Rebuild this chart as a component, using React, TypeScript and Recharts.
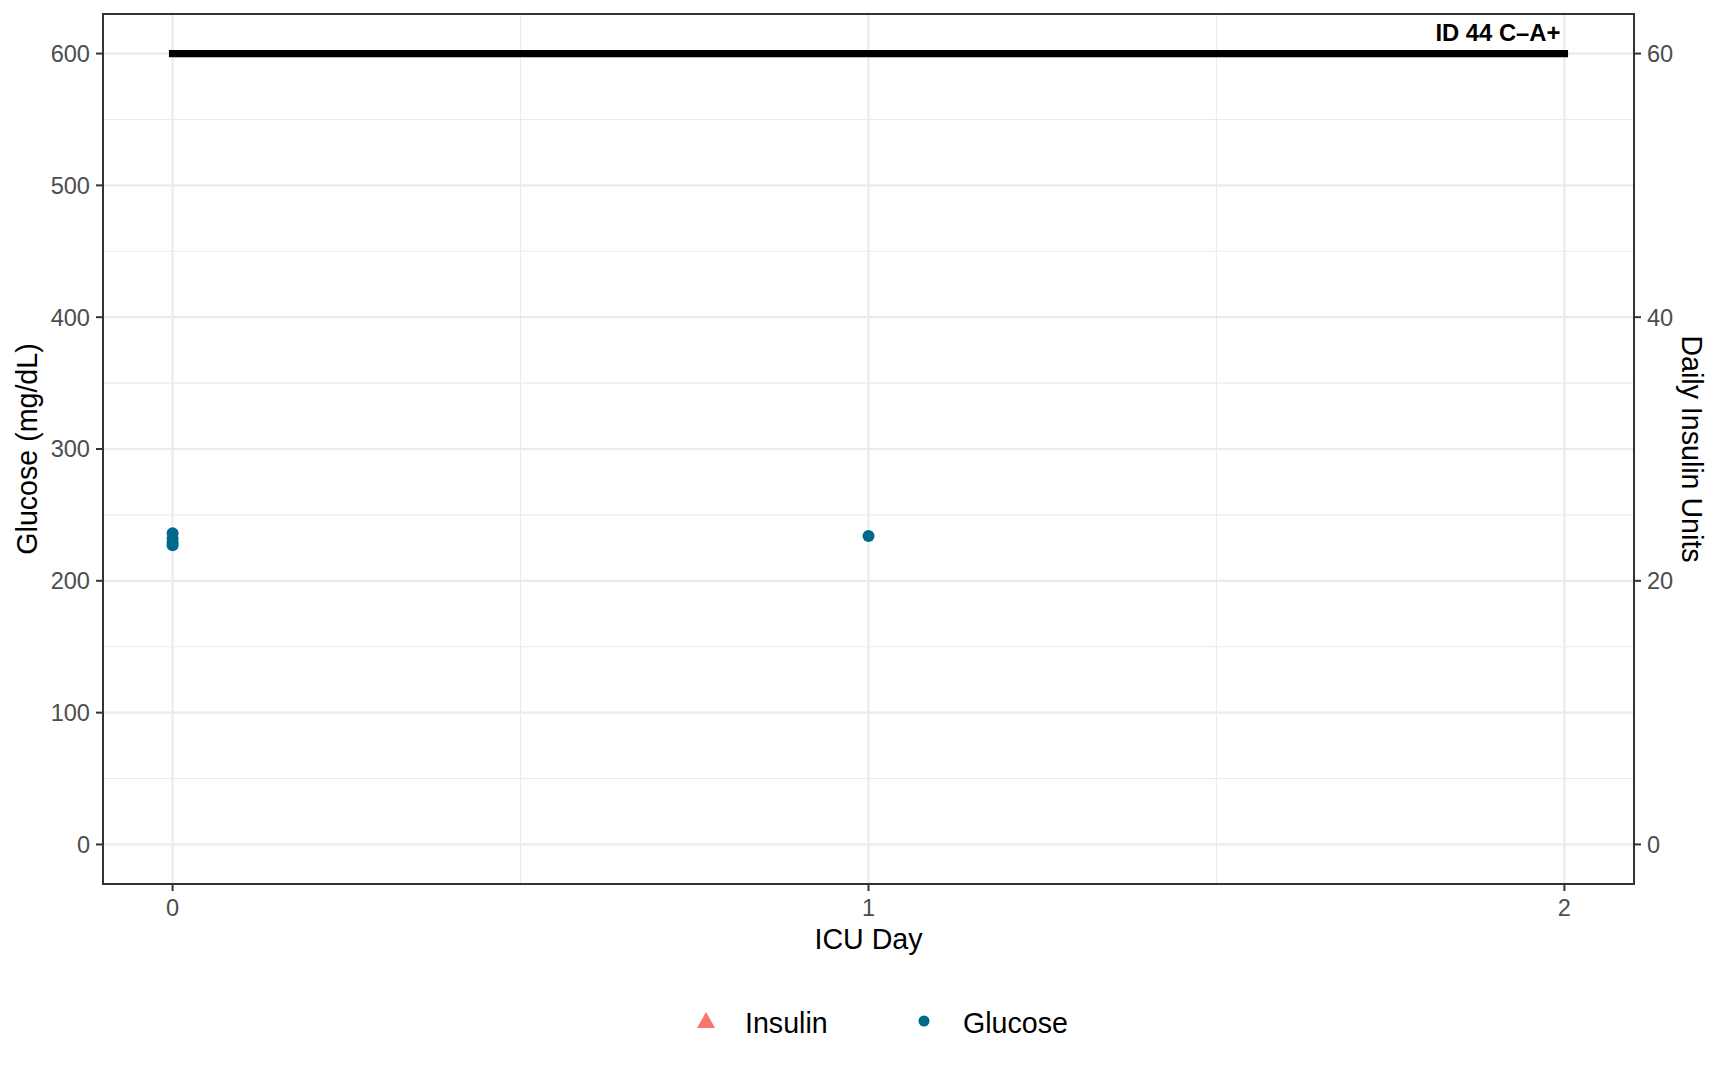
import React from "react";
import {
  ComposedChart,
  Scatter,
  XAxis,
  YAxis,
  CartesianGrid,
  ReferenceLine,
  ReferenceArea,
} from "recharts";

// glucose readings (mg/dL) by ICU day
const glucoseDays = [0, 0, 0, 0, 1];
const glucoseValues = [236, 232, 229, 227, 234];

// daily insulin units (none recorded for this patient)
const insulinDays: number[] = [];
const insulinUnits: number[] = [];

const dayTicks = [0, 1, 2];
const dayMinor = [0.5, 1.5];
const glucoseTicks = [0, 100, 200, 300, 400, 500, 600];
const glucoseMinor = [50, 150, 250, 350, 450, 550];
const insulinTicks = [0, 20, 40, 60];

const refLevel = 600;
const refLabel = "ID 44 C–A+";

const legendItems = [
  { name: "Insulin", color: "#F8766D", shape: "triangle" },
  { name: "Glucose", color: "#00688B", shape: "circle" },
];

const FONT = "'Liberation Sans', Arial, Helvetica, sans-serif";
const TICK = { fill: "#4D4D4D", fontSize: 23.6, fontFamily: FONT };

const glucoseData = glucoseDays.map((d, i) => ({ day: d, glucose: glucoseValues[i] }));
const insulinData = insulinDays.map((d, i) => ({ day: d, insulin: insulinUnits[i] }));

const Dot = (props: any) => (
  <circle cx={props.cx} cy={props.cy} r={6} fill="#00688B" />
);

const Tri = (props: any) => {
  const { cx, cy } = props;
  return (
    <path
      d={`M${cx},${cy - 8} L${cx + 9},${cy + 7} L${cx - 9},${cy + 7} Z`}
      fill="#F8766D"
    />
  );
};

export default function App() {
  return (
    <div
      style={{
        position: "absolute",
        left: 0,
        top: 0,
        width: 1723,
        height: 1075,
        background: "#fff",
        fontFamily: FONT,
      }}
    >
      <ComposedChart
        width={1723}
        height={1075}
        margin={{ top: 14, right: 0, bottom: 0, left: 0 }}
      >
        <CartesianGrid
          yAxisId="left"
          stroke="#EBEBEB"
          strokeWidth={1.1}
          horizontalValues={glucoseMinor}
          verticalValues={dayMinor}
        />
        <CartesianGrid
          yAxisId="left"
          stroke="#EBEBEB"
          strokeWidth={2.2}
          horizontalValues={glucoseTicks}
          verticalValues={dayTicks}
        />
        <XAxis
          dataKey="day"
          type="number"
          domain={[-0.1, 2.1]}
          ticks={dayTicks}
          allowDataOverflow
          height={191}
          tickSize={7}
          tickMargin={8}
          tick={TICK}
          axisLine={false}
          tickLine={{ stroke: "#333333", strokeWidth: 2 }}
          label={{
            content: (p: any) => (
              <text
                x={p.viewBox.x + p.viewBox.width / 2}
                y={p.viewBox.y + 65}
                textAnchor="middle"
                fontSize={28.6}
                fontFamily={FONT}
                fill="#000"
              >
                ICU Day
              </text>
            ),
          }}
        />
        <YAxis
          yAxisId="left"
          type="number"
          domain={[-30, 630]}
          ticks={glucoseTicks}
          allowDataOverflow
          width={103}
          tickSize={7}
          tickMargin={6}
          tick={TICK}
          axisLine={false}
          tickLine={{ stroke: "#333333", strokeWidth: 2 }}
          label={{
            content: (p: any) => {
              const x = p.viewBox.x + 37;
              const y = p.viewBox.y + p.viewBox.height / 2;
              return (
                <text
                  x={x}
                  y={y}
                  transform={`rotate(-90, ${x}, ${y})`}
                  textAnchor="middle"
                  fontSize={28.6}
                  fontFamily={FONT}
                  fill="#000"
                >
                  Glucose (mg/dL)
                </text>
              );
            },
          }}
        />
        <YAxis
          yAxisId="right"
          orientation="right"
          type="number"
          domain={[-3, 63]}
          ticks={insulinTicks}
          allowDataOverflow
          width={89}
          tickSize={7}
          tickMargin={6}
          tick={TICK}
          axisLine={false}
          tickLine={{ stroke: "#333333", strokeWidth: 2 }}
          label={{
            content: (p: any) => {
              const x = p.viewBox.x + 48;
              const y = p.viewBox.y + p.viewBox.height / 2;
              return (
                <text
                  x={x}
                  y={y}
                  transform={`rotate(90, ${x}, ${y})`}
                  textAnchor="middle"
                  fontSize={28.6}
                  fontFamily={FONT}
                  fill="#000"
                >
                  Daily Insulin Units
                </text>
              );
            },
          }}
        />
        <ReferenceLine
          yAxisId="left"
          segment={[
            { x: 0, y: refLevel },
            { x: 2, y: refLevel },
          ]}
          stroke="#000"
          strokeWidth={7.3}
          strokeLinecap="square"
          label={{
            content: (p: any) => (
              <text
                x={p.viewBox.x + p.viewBox.width - 4}
                y={p.viewBox.y - 13}
                textAnchor="end"
                fontSize={23.8}
                fontWeight="bold"
                fontFamily={FONT}
                fill="#000"
              >
                {refLabel}
              </text>
            ),
          }}
        />
        <Scatter
          name="Insulin"
          yAxisId="right"
          data={insulinData}
          dataKey="insulin"
          shape={Tri}
          isAnimationActive={false}
        />
        <Scatter
          name="Glucose"
          yAxisId="left"
          data={glucoseData}
          dataKey="glucose"
          shape={Dot}
          isAnimationActive={false}
        />
        <ReferenceArea
          yAxisId="left"
          x1={-0.1}
          x2={2.1}
          y1={-30}
          y2={630}
          fill="none"
          stroke="#333333"
          strokeWidth={2}
        />
      </ComposedChart>
      <svg
        width={1723}
        height={60}
        style={{ position: "absolute", left: 0, top: 991 }}
      >
        {legendItems.map((item, i) => {
          const cx = 706 + i * 218;
          return (
            <g key={item.name}>
              {item.shape === "triangle" ? (
                <path
                  d={`M${cx},${30 - 9} L${cx + 9},${30 + 7} L${cx - 9},${30 + 7} Z`}
                  fill={item.color}
                />
              ) : (
                <circle cx={cx} cy={30} r={5.5} fill={item.color} />
              )}
              <text
                x={cx + 39}
                y={42}
                fontSize={28.6}
                fontFamily={FONT}
                fill="#000"
              >
                {item.name}
              </text>
            </g>
          );
        })}
      </svg>
    </div>
  );
}
